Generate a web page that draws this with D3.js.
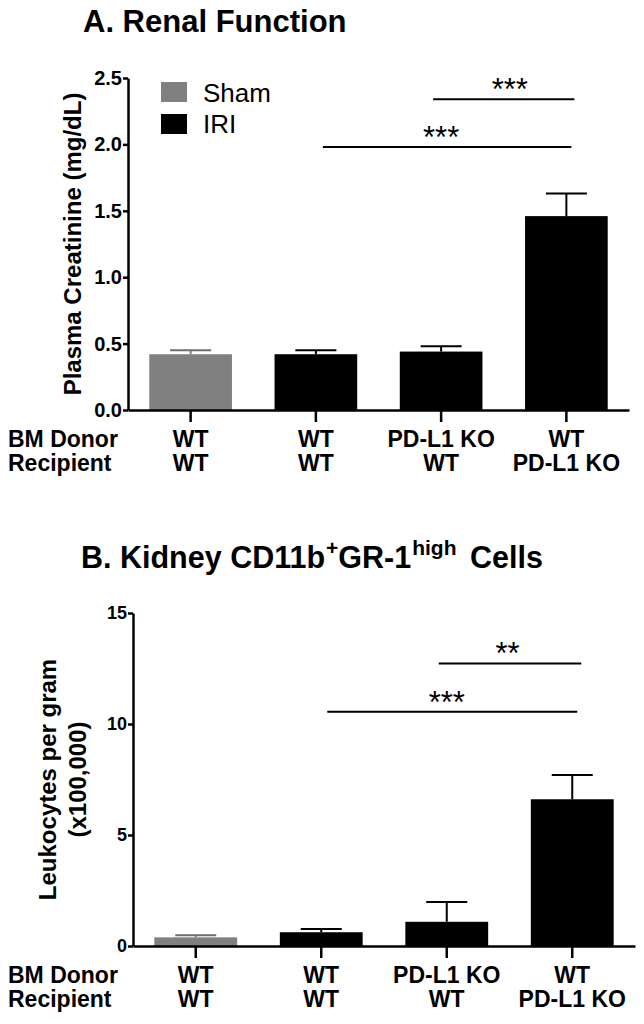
<!DOCTYPE html>
<html>
<head>
<meta charset="utf-8">
<script src="https://cdn.jsdelivr.net/npm/d3@7"></script>
<style>
  html, body { margin: 0; padding: 0; background: #fff; }
  svg { display: block; font-family: "Liberation Sans", Arial, sans-serif; }
</style>
</head>
<body>
<svg id="chart" width="644" height="1024"></svg>
<script>
// ---------- data ----------
const groups = ["g1", "g2", "g3", "g4"];
const bmDonor = ["WT", "WT", "PD-L1 KO", "WT"];
const recipient = ["WT", "WT", "WT", "PD-L1 KO"];
const condition = ["Sham", "IRI", "IRI", "IRI"];
const legendItems = ["Sham", "IRI"];

const creatinineMean = [0.42, 0.42, 0.44, 1.46];
const creatinineSem  = [0.03, 0.03, 0.04, 0.17];
const creatinineTicks = [0, 0.5, 1.0, 1.5, 2.0, 2.5];

const leukocyteMean = [0.39, 0.62, 1.09, 6.61];
const leukocyteSem  = [0.09, 0.15, 0.89, 1.09];
const leukocyteTicks = [0, 5, 10, 15];

const sigA = [
  { from: "g3", to: "g4", level: 2.34, label: "***" },
  { from: "g2", to: "g4", level: 1.98, label: "***" }
];
const sigB = [
  { from: "g3", to: "g4", level: 12.73, label: "**" },
  { from: "g2", to: "g4", level: 10.55, label: "***" }
];

// ---------- drawing ----------
const svg = d3.select("#chart");
const colors = { Sham: "#808080", IRI: "#000000" };
const FONT = "'Liberation Sans', Arial, sans-serif";

function panel(cfg) {
  const g = svg.append("g");
  const x = d3.scaleBand().domain(groups)
    .range([cfg.x0, cfg.x1]).paddingInner(0.34).paddingOuter(0.17);
  const y = d3.scaleLinear().domain(cfg.domain).range([cfg.yBottom, cfg.yTop]);

  // title
  const t = g.append("text").attr("x", cfg.titleX).attr("y", cfg.titleY)
    .attr("font-size", cfg.titleFont).attr("font-weight", "bold").attr("font-family", FONT);
  cfg.title.forEach(part => {
    const ts = t.append("tspan").text(part.text);
    if (part.sup) ts.attr("font-size", 21).attr("dy", -13).attr("dx", 1);
    else if (part.after) ts.attr("dy", 13).attr("dx", part.dx || 0);
  });

  // bars
  g.selectAll("rect.bar").data(groups).enter().append("rect")
    .attr("x", d => x(d)).attr("width", x.bandwidth())
    .attr("y", (d, i) => y(cfg.mean[i]))
    .attr("height", (d, i) => y(0) - y(cfg.mean[i]))
    .attr("fill", (d, i) => colors[condition[i]]);

  // error bars (upper)
  const capW = 41;
  groups.forEach((d, i) => {
    const cx = x(d) + x.bandwidth() / 2;
    const col = condition[i] === "Sham" ? "#6e6e6e" : "#000";
    g.append("line").attr("x1", cx).attr("x2", cx)
      .attr("y1", y(cfg.mean[i])).attr("y2", y(cfg.mean[i] + cfg.sem[i]))
      .attr("stroke", condition[i] === "Sham" ? "#808080" : "#000").attr("stroke-width", 2);
    g.append("line").attr("x1", cx - capW / 2).attr("x2", cx + capW / 2)
      .attr("y1", y(cfg.mean[i] + cfg.sem[i])).attr("y2", y(cfg.mean[i] + cfg.sem[i]))
      .attr("stroke", col).attr("stroke-width", 2);
  });

  // y axis
  const ya = g.append("g").attr("transform", `translate(${cfg.x0},0)`)
    .call(d3.axisLeft(y).tickValues(cfg.ticks).tickFormat(cfg.fmt)
      .tickSize(5).tickSizeOuter(0).tickPadding(1));
  ya.select(".domain").attr("stroke", "#000").attr("stroke-width", 2.5);
  ya.selectAll(".tick line").attr("stroke", "#000").attr("stroke-width", 2.5);
  ya.selectAll(".tick text").attr("font-size", cfg.tickFont).attr("font-weight", "bold")
    .attr("font-family", FONT).attr("fill", "#000");

  // x axis
  const xa = g.append("g").attr("transform", `translate(0,${cfg.yBottom})`)
    .call(d3.axisBottom(x).tickSize(12).tickSizeOuter(0).tickFormat(""));
  xa.select(".domain").attr("stroke", "#000").attr("stroke-width", 2.5);
  xa.selectAll(".tick line").attr("stroke", "#000").attr("stroke-width", 2.5);

  // category labels
  const lab = g.append("g").attr("font-size", 23).attr("font-weight", "bold")
    .attr("font-family", FONT).attr("fill", "#000");
  lab.append("text").attr("x", 8).attr("y", cfg.row1).text("BM Donor");
  lab.append("text").attr("x", 8).attr("y", cfg.row2).text("Recipient");
  groups.forEach((d, i) => {
    const cx = x(d) + x.bandwidth() / 2;
    lab.append("text").attr("x", cx).attr("y", cfg.row1).attr("text-anchor", "middle").text(bmDonor[i]);
    lab.append("text").attr("x", cx).attr("y", cfg.row2).attr("text-anchor", "middle").text(recipient[i]);
  });

  // y axis title
  cfg.yTitle.forEach((line, k) => {
    g.append("text")
      .attr("transform", `translate(${cfg.yTitleX[k]},${(cfg.yTop + cfg.yBottom) / 2}) rotate(-90)`)
      .attr("text-anchor", "middle").attr("font-size", 24).attr("font-weight", "bold")
      .attr("font-family", FONT).text(line);
  });

  // significance
  cfg.sig.forEach((s, k) => {
    const c1 = x(s.from) + x.bandwidth() / 2, c2 = x(s.to) + x.bandwidth() / 2;
    const ly = y(s.level);
    g.append("line").attr("x1", c1 + cfg.sigOff[k][0]).attr("x2", c2 + cfg.sigOff[k][1])
      .attr("y1", ly).attr("y2", ly).attr("stroke", "#000").attr("stroke-width", 2);
    g.append("text").attr("x", (c1 + c2) / 2 + cfg.sigOff[k][2]).attr("y", ly + 1)
      .attr("text-anchor", "middle").attr("font-size", 31).attr("font-family", FONT)
      .text(s.label);
  });
  return { x, y, g };
}

const A = panel({
  x0: 128, x1: 629, yTop: 78, yBottom: 410, domain: [0, 2.5],
  mean: creatinineMean, sem: creatinineSem, ticks: creatinineTicks,
  fmt: d3.format(".1f"), tickFont: 20,
  title: [{ text: "A. Renal Function" }], titleX: 83, titleY: 32, titleFont: 31,
  row1: 447, row2: 471,
  yTitle: ["Plasma Creatinine (mg/dL)"], yTitleX: [81],
  sig: sigA, sigOff: [[-8, 8, 6], [7, 5, 0]]
});

const B = panel({
  x0: 133, x1: 635, yTop: 613, yBottom: 946, domain: [0, 15],
  mean: leukocyteMean, sem: leukocyteSem, ticks: leukocyteTicks,
  fmt: d3.format("d"), tickFont: 18,
  title: [{ text: "B. Kidney CD11b" }, { text: "+", sup: true }, { text: "GR-1", after: true },
          { text: "high", sup: true }, { text: " Cells", after: true, dx: 5 }],
  titleX: 81, titleY: 568, titleFont: 30.5,
  row1: 983, row2: 1007,
  yTitle: ["Leukocytes per gram", "(x100,000)"], yTitleX: [56, 86],
  sig: sigB, sigOff: [[-8, 9, -2], [6, 5, 0]]
});

// legend (panel A)
const leg = svg.append("g");
legendItems.forEach((name, i) => {
  leg.append("rect").attr("x", 161).attr("y", 82 + i * 32).attr("width", 26).attr("height", 20)
    .attr("fill", colors[name]);
  leg.append("text").attr("x", 203).attr("y", 102 + i * 31).attr("font-size", 26)
    .attr("font-family", FONT).attr("fill", "#000").text(name);
});
</script>
</body>
</html>
